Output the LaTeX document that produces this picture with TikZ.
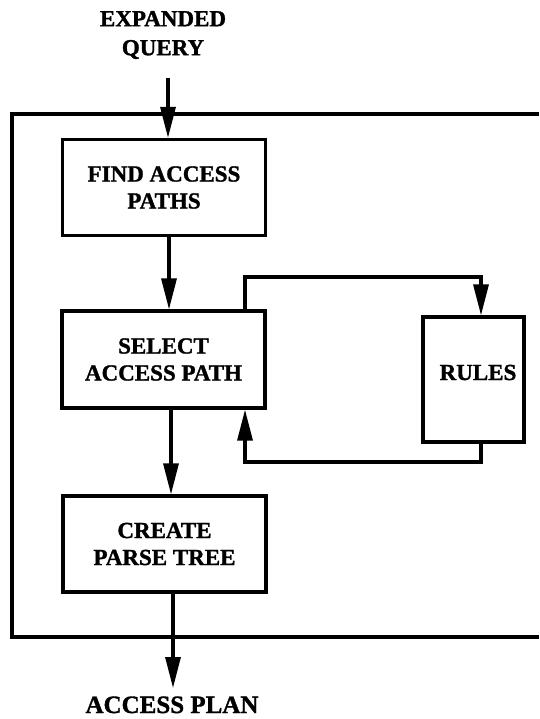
\documentclass[tikz,border=0pt]{standalone}
\usepackage{fontspec}
\setmainfont[BoldFeatures={FakeBold=1.3}]{Liberation Serif}
\usetikzlibrary{arrows.meta}
\begin{document}
\begin{tikzpicture}[x=1pt,y=-1pt,
  line width=3.2pt,
  label/.style={font=\bfseries\fontsize{23}{27}\selectfont, align=center, inner sep=0pt},
  procbox/.style={draw, line width=3.2pt, label, minimum width=203pt, minimum height=96pt},
  flow/.style={-{Triangle[length=31pt,width=15pt]}, line width=3.2pt}]
  \useasboundingbox (0,0) rectangle (539,719);
  % outer frame, open on the right where it runs off the page
  \draw (539,114) -- (12,114) -- (12,637) -- (539,637);
  % processing steps
  \node[procbox] (find) at (164,187.5) {FIND ACCESS\\PATHS};
  \node[procbox, minimum height=97pt] (select) at (163.5,359.5) {SELECT\\ACCESS PATH};
  \node[procbox] (create) at (164.5,544) {CREATE\\PARSE TREE};
  \node[draw, line width=3.2pt, minimum width=101pt, minimum height=125pt] (rules) at (473.5,379.5) {};
  \node[label, anchor=base] (rulestxt) at (478,380) {RULES};
  % external input and output
  \node[label, font=\bfseries\fontsize{23}{29}\selectfont] (query) at (163,35) {EXPANDED\\QUERY};
  \node[label, font=\bfseries\fontsize{25}{30}\selectfont, anchor=base] (plan) at (172,713) {ACCESS PLAN};
  \coordinate (qin) at (168,78);
  \coordinate (pout) at (173,688);
  % main flow
  \draw[flow] (qin) -- (qin |- find.north);
  \draw[flow] (find.south -| 169,0) -- (select.north -| 169,0);
  \draw[flow] (select.south -| 171,0) -- (create.north -| 171,0);
  \draw[flow] (create.south -| pout) -- (pout);
  % consultation of the rules
  \coordinate (up) at (245,277);
  \coordinate (dn) at (245,462);
  \draw[flow] (select.north -| up) -- (up) -- (up -| 481,0) -- (rules.north -| 481,0);
  \draw[flow] (rules.south -| 481,0) -- (dn -| 481,0) -- (dn) -- (select.south -| dn);
\end{tikzpicture}
\end{document}
